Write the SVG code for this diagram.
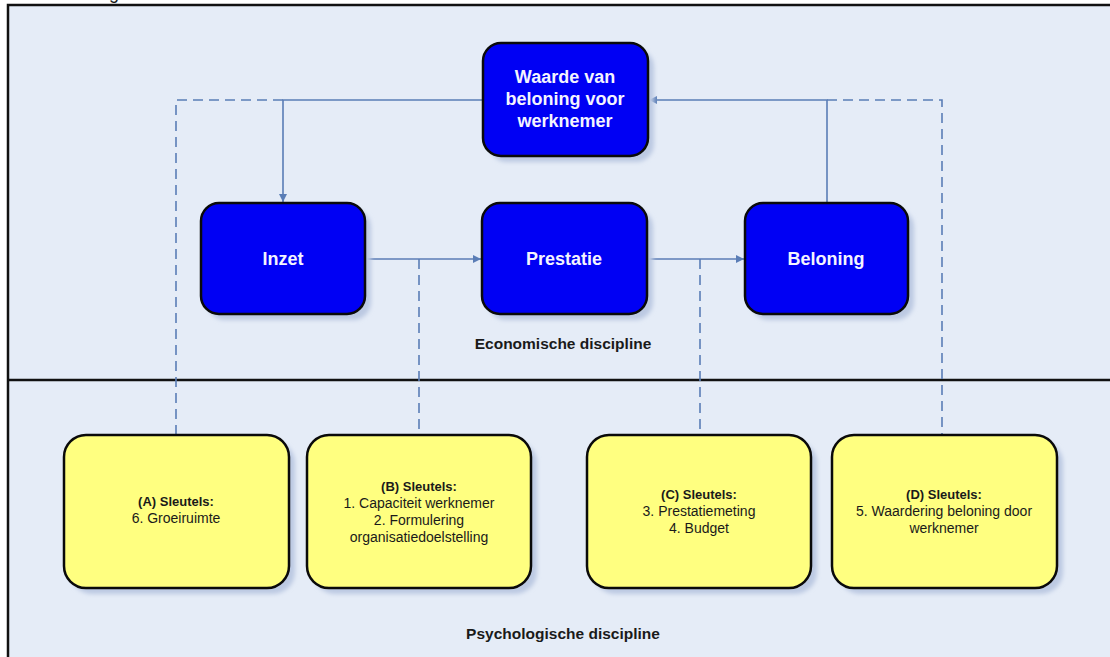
<svg xmlns="http://www.w3.org/2000/svg" width="1110" height="657" viewBox="0 0 1110 657">
  <style>
    .frame { fill: #E5ECF7; stroke: #111; stroke-width: 2.5; }
    .divider { stroke: #111; stroke-width: 2.5; }
    .blue { fill: #0000F4; stroke: #0a0a0a; stroke-width: 2.5; }
    .yellow { fill: #FFFF80; stroke: #0a0a0a; stroke-width: 2.5; }
    .shadow { fill: #BCC9E2; filter: url(#soft); }
    .wt { font-family: "Liberation Sans", Arial, sans-serif; font-weight: bold; font-size: 18px; fill: #F4F4FF; text-anchor: middle; }
    .kh { font-family: "Liberation Sans", Arial, sans-serif; font-weight: bold; font-size: 13px; fill: #1a1a1a; text-anchor: middle; }
    .kt { font-family: "Liberation Sans", Arial, sans-serif; font-size: 14px; fill: #1a1a1a; text-anchor: middle; }
    .lbl { font-family: "Liberation Sans", Arial, sans-serif; font-weight: bold; font-size: 15.5px; fill: #1a1a1a; text-anchor: middle; }
    .solid { fill: none; stroke: #5A7DB6; stroke-width: 1.6; }
    .dash { fill: none; stroke: #5A7DB6; stroke-width: 1.6; stroke-dasharray: 10 6; }
  </style>
  <defs>
    <filter id="soft" x="-10%" y="-10%" width="120%" height="120%">
      <feGaussianBlur stdDeviation="2"/>
    </filter>
    <marker id="arrow" viewBox="0 0 10 10" refX="10" refY="5" markerWidth="8" markerHeight="8" markerUnits="userSpaceOnUse" orient="auto">
      <path d="M0,0 L10,5 L0,10 Z" fill="#5A7DB6"/>
    </marker>
  </defs>

  <rect width="1110" height="657" fill="#ffffff"/>
  <text x="109" y="-1" class="kt" style="font-size:18px;text-anchor:start">g</text>

  <!-- two discipline panels -->
  <rect class="frame" x="8" y="5" width="1112" height="670"/>
  <line class="divider" x1="8" y1="380" x2="1110" y2="380"/>
  <text class="lbl" x="563" y="349">Economische discipline</text>
  <text class="lbl" x="563" y="639">Psychologische discipline</text>

  <!-- connectors -->
  <g id="connectors">
    <path class="solid" d="M483,100 H283 V202" marker-end="url(#arrow)"/>
    <path class="dash" d="M283,100 H176 V435"/>
    <path class="solid" d="M827,203 V100 H649" marker-end="url(#arrow)"/>
    <path class="dash" d="M827,100 H942 V435"/>
    <path class="solid" d="M365,259 H481" marker-end="url(#arrow)"/>
    <path class="dash" d="M419,259 V435"/>
    <path class="solid" d="M647,259 H744" marker-end="url(#arrow)"/>
    <path class="dash" d="M700,259 V435"/>
  </g>

  <!-- economic chain -->
  <g id="waarde">
    <rect class="shadow" x="489" y="49" width="165" height="113" rx="18"/>
    <rect class="blue" x="483" y="43" width="165" height="113" rx="18"/>
    <text class="wt" x="565" y="83">Waarde van</text>
    <text class="wt" x="565" y="105">beloning voor</text>
    <text class="wt" x="565" y="127">werknemer</text>
  </g>
  <g id="inzet">
    <rect class="shadow" x="207" y="209" width="164" height="111" rx="18"/>
    <rect class="blue" x="201" y="203" width="164" height="111" rx="18"/>
    <text class="wt" x="283" y="265">Inzet</text>
  </g>
  <g id="prestatie">
    <rect class="shadow" x="488" y="209" width="165" height="111" rx="18"/>
    <rect class="blue" x="482" y="203" width="165" height="111" rx="18"/>
    <text class="wt" x="564" y="265">Prestatie</text>
  </g>
  <g id="beloning">
    <rect class="shadow" x="751" y="209" width="163" height="111" rx="18"/>
    <rect class="blue" x="745" y="203" width="163" height="111" rx="18"/>
    <text class="wt" x="826" y="265">Beloning</text>
  </g>

  <!-- psychological keys -->
  <g id="sleutels-a">
    <rect class="shadow" x="70" y="441" width="225" height="153" rx="22"/>
    <rect class="yellow" x="64" y="435" width="225" height="153" rx="22"/>
    <text class="kh" x="176" y="506">(A) Sleutels:</text>
    <text class="kt" x="176" y="523">6. Groeiruimte</text>
  </g>
  <g id="sleutels-b">
    <rect class="shadow" x="313" y="441" width="224" height="153" rx="22"/>
    <rect class="yellow" x="307" y="435" width="224" height="153" rx="22"/>
    <text class="kh" x="419" y="491">(B) Sleutels:</text>
    <text class="kt" x="419" y="508">1. Capaciteit werknemer</text>
    <text class="kt" x="419" y="525">2. Formulering</text>
    <text class="kt" x="419" y="542">organisatiedoelstelling</text>
  </g>
  <g id="sleutels-c">
    <rect class="shadow" x="593" y="441" width="224" height="153" rx="22"/>
    <rect class="yellow" x="587" y="435" width="224" height="153" rx="22"/>
    <text class="kh" x="699" y="499">(C) Sleutels:</text>
    <text class="kt" x="699" y="516">3. Prestatiemeting</text>
    <text class="kt" x="699" y="533">4. Budget</text>
  </g>
  <g id="sleutels-d">
    <rect class="shadow" x="838" y="441" width="225" height="153" rx="22"/>
    <rect class="yellow" x="832" y="435" width="225" height="153" rx="22"/>
    <text class="kh" x="944" y="499">(D) Sleutels:</text>
    <text class="kt" x="944" y="516">5. Waardering beloning door</text>
    <text class="kt" x="944" y="533">werknemer</text>
  </g>
</svg>
